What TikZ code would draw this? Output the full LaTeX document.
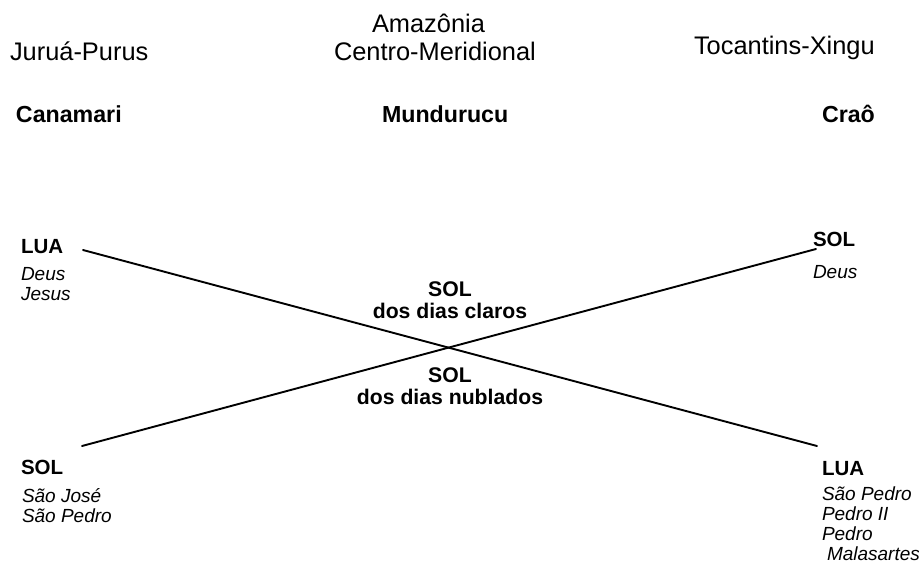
\documentclass[tikz,border=0pt]{standalone}
\usepackage{fontspec}
\setmainfont{Liberation Sans}
\begin{document}
\begin{tikzpicture}[x=1pt,y=-1pt,
 lbl/.style={anchor=base west,inner sep=0pt,outer sep=0pt},
 region/.style={lbl,font=\fontsize{25.4}{28}\selectfont},
 people/.style={lbl,font=\fontsize{23.2}{28}\selectfont\bfseries},
 astro/.style={lbl,font=\fontsize{20.5}{24}\selectfont\bfseries},
 saint/.style={lbl,font=\fontsize{19}{20}\selectfont\itshape},
 mid/.style={anchor=base,inner sep=0pt,outer sep=0pt,font=\fontsize{21.2}{24}\selectfont\bfseries},
 cross/.style={line width=1.9pt,line cap=round}]
\useasboundingbox (0,0) rectangle (919,568);
% regions
\node[region] (jp) at (10,60) {Juruá-Purus};
\node[region] (am) at (372,32) {Amazônia};
\node[region] (cm) at (334,60) {Centro-Meridional};
\node[region] (tx) at (694,54) {Tocantins-Xingu};
% peoples
\node[people] (can) at (16,122) {Canamari};
\node[people] (mun) at (382,122) {Mundurucu};
\node[people] (cra) at (822,122) {Craô};
% left top
\node[astro] (lua1) at (21,253) {LUA};
\node[saint] (deus1) at (21,280) {Deus};
\node[saint] (jesus) at (21,300) {Jesus};
% left bottom
\node[astro] (sol1) at (21,474) {SOL};
\node[saint] (sjose) at (22,502) {São José};
\node[saint] (spedro1) at (22,522) {São Pedro};
% right top
\node[astro] (sol2) at (813,246) {SOL};
\node[saint] (deus2) at (813,278) {Deus};
% right bottom
\node[astro] (lua2) at (822,475) {LUA};
\node[saint] (spedro2) at (822,500) {São Pedro};
\node[saint] (pedro2) at (822,520) {Pedro II};
\node[saint] (pedro) at (822,540) {Pedro};
\node[saint] (malas) at (827,560) {Malasartes};
% center
\node[mid] (solc) at (450,296) {SOL};
\node[mid] (claros) at (450,318) {dos dias claros};
\node[mid] (soln) at (450,382) {SOL};
\node[mid] (nublados) at (450,404) {dos dias nublados};
% crossing lines
\coordinate (a1) at (83,250);
\coordinate (a2) at (817,446);
\coordinate (b1) at (82,446);
\coordinate (b2) at (816,249);
\draw[cross] (a1) -- (a2);
\draw[cross] (b1) -- (b2);
\end{tikzpicture}
\end{document}
